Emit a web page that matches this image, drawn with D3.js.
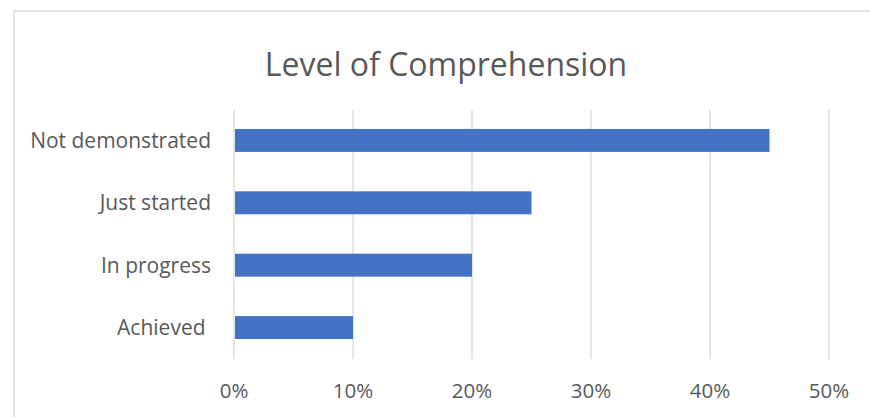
<!DOCTYPE html>
<html>
<head>
<meta charset="utf-8">
<script src="https://cdn.jsdelivr.net/npm/d3@7"></script>
<style>
	body { margin: 0; background: white; }
	text { font-family: "Open Sans", sans-serif; fill: #595959; }
</style>
</head>
<body>
<div id="vizContainer"></div>
<script>
let w = 870;
let h = 417;

// data
// (the last label carries a trailing space in the original)
let categories = ["Not demonstrated", "Just started", "In progress", "Achieved "];
let values = [0.45, 0.25, 0.20, 0.10];
let tickValues = [0, 0.1, 0.2, 0.3, 0.4, 0.5];
let title = "Level of Comprehension";

let viz = d3.select('#vizContainer').append('svg')
	.attr('width', w)
	.attr('height', h)
	.style('background-color', 'white')
	;

// chart frame (cut off at right and bottom)
viz.append('rect')
	.attr('x', 14)
	.attr('y', 11)
	.attr('width', w)
	.attr('height', h)
	.attr('fill', 'none')
	.attr('stroke', '#d9d9d9')
	.attr('stroke-width', 1.5)
	;

viz.append('text')
	.attr('x', 446)
	.attr('y', 76)
	.attr('text-anchor', 'middle')
	.style('font-size', '32px')
	.text(title)
	;

let xScale = d3.scaleLinear().domain([0, 0.5]).range([234, 829]);
let yScale = d3.scaleBand().domain(categories).range([109.25, 358.75]).paddingInner(0.632).paddingOuter(0.316);

// gridlines
viz.append('g')
	.selectAll('line')
	.data(tickValues)
	.enter()
	.append('line')
	.attr('x1', function(d){ return xScale(d) })
	.attr('x2', function(d){ return xScale(d) })
	.attr('y1', 110)
	.attr('y2', 359)
	.attr('stroke', '#d9d9d9')
	.attr('stroke-width', 1.3)
	;

// x tick labels
viz.append('g')
	.selectAll('text')
	.data(tickValues)
	.enter()
	.append('text')
	.attr('x', function(d){ return xScale(d) })
	.attr('y', 398)
	.attr('text-anchor', 'middle')
	.style('font-size', '20.5px')
	.text(d3.format('.0%'))
	;

// category labels
viz.append('g')
	.selectAll('text')
	.data(categories)
	.enter()
	.append('text')
	.attr('x', 211)
	.attr('y', function(d){ return yScale(d) + yScale.bandwidth() / 2 })
	.attr('dy', '0.35em')
	.attr('text-anchor', 'end')
	.style('font-size', '21px')
	.style('white-space', 'pre')
	.text(function(d){ return d })
	;

// bars
viz.append('g')
	.selectAll('rect')
	.data(values)
	.enter()
	.append('rect')
	.attr('x', xScale(0) + 1)
	.attr('y', function(d, i){ return yScale(categories[i]) })
	.attr('width', function(d){ return xScale(d) - xScale(0) - 1 })
	.attr('height', yScale.bandwidth())
	.attr('fill', '#4472c4')
	;
</script>
</body>
</html>
